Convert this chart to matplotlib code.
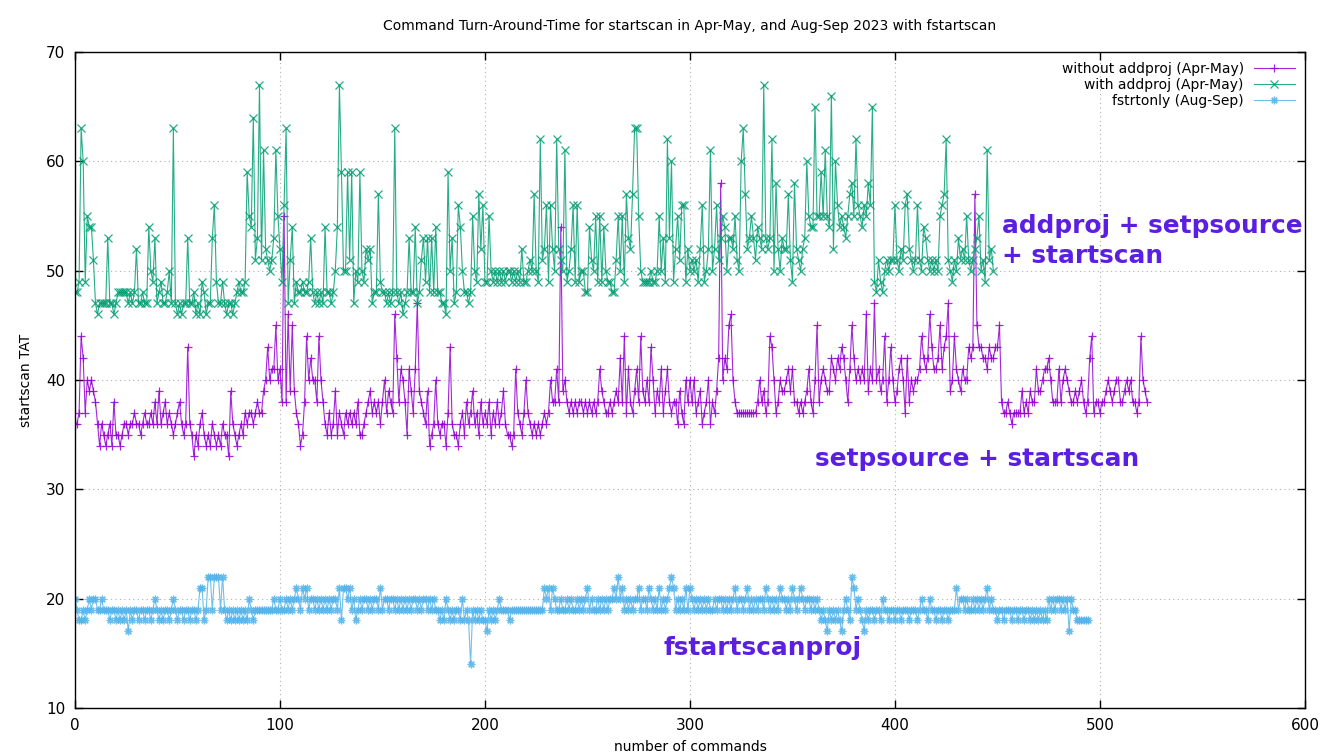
import numpy as np
import matplotlib
matplotlib.use("Agg")
import matplotlib.pyplot as plt

# startscan turn-around time per command (seconds)
without_addproj = [
    36, 36, 37, 44, 42, 37, 40, 39, 40, 39, 38, 36, 34, 36, 35, 34, 35, 36, 34, 38,
    35, 35, 34, 35, 36, 36, 35, 36, 36, 37, 36, 36, 35, 36, 37, 36, 36, 37, 36, 38,
    36, 39, 36, 37, 38, 36, 37, 36, 35, 36, 37, 38, 36, 35, 36, 43, 36, 35, 33, 35,
    34, 36, 37, 35, 34, 35, 34, 36, 35, 34, 35, 34, 36, 35, 35, 33, 39, 36, 35, 34,
    35, 36, 35, 37, 36, 37, 37, 36, 37, 38, 37, 37, 39, 40, 43, 40, 41, 41, 45, 40,
    41, 38, 55, 38, 46, 39, 45, 39, 37, 36, 34, 35, 38, 44, 40, 42, 40, 40, 38, 44,
    40, 38, 36, 35, 37, 35, 36, 39, 35, 37, 36, 35, 37, 36, 37, 36, 37, 36, 38, 35,
    35, 36, 37, 38, 39, 37, 38, 37, 38, 36, 38, 40, 37, 39, 38, 37, 46, 42, 38, 41,
    40, 38, 35, 41, 39, 37, 41, 47, 39, 38, 37, 36, 39, 34, 35, 36, 40, 36, 35, 36,
    36, 34, 37, 43, 36, 35, 35, 34, 36, 37, 35, 38, 36, 37, 39, 36, 37, 35, 38, 36,
    37, 36, 38, 35, 37, 36, 38, 36, 37, 39, 36, 35, 35, 34, 35, 41, 37, 36, 35, 37,
    40, 37, 36, 35, 36, 35, 36, 35, 36, 37, 36, 37, 40, 38, 38, 41, 38, 54, 39, 40,
    38, 37, 38, 37, 38, 37, 38, 38, 37, 38, 37, 38, 37, 38, 37, 38, 41, 39, 38, 37,
    37, 38, 37, 38, 39, 38, 42, 38, 44, 37, 41, 38, 37, 39, 41, 38, 44, 39, 38, 40,
    38, 43, 40, 37, 39, 38, 41, 37, 39, 41, 38, 37, 38, 38, 36, 39, 37, 36, 40, 38,
    40, 38, 40, 37, 38, 39, 36, 37, 38, 40, 36, 38, 37, 39, 42, 58, 40, 42, 41, 45,
    46, 40, 38, 37, 37, 37, 37, 37, 37, 37, 37, 37, 37, 38, 40, 38, 39, 37, 38, 44,
    43, 40, 37, 38, 40, 39, 39, 40, 41, 39, 41, 38, 38, 37, 38, 37, 38, 39, 41, 38,
    37, 40, 45, 38, 40, 41, 40, 39, 39, 42, 41, 40, 42, 41, 43, 42, 40, 38, 41, 45,
    42, 40, 41, 40, 41, 40, 46, 39, 41, 40, 47, 40, 41, 39, 40, 44, 38, 40, 43, 40,
    38, 39, 41, 42, 40, 37, 42, 38, 40, 39, 40, 40, 41, 44, 42, 41, 42, 46, 43, 41,
    41, 42, 45, 41, 43, 44, 47, 39, 40, 44, 41, 40, 39, 41, 40, 40, 43, 42, 43, 57,
    45, 43, 43, 42, 42, 41, 43, 42, 42, 43, 43, 45, 38, 37, 37, 38, 37, 36, 37, 37,
    37, 37, 39, 37, 38, 37, 39, 38, 38, 41, 39, 39, 40, 41, 41, 42, 40, 38, 38, 38,
    41, 38, 40, 41, 40, 39, 38, 38, 39, 38, 39, 40, 38, 37, 38, 42, 44, 37, 38, 38,
    37, 38, 38, 39, 40, 39, 38, 39, 40, 40, 38, 38, 39, 40, 39, 40, 38, 38, 37, 38,
    44, 40, 39, 38,
]

with_addproj = [
    48, 48, 49, 63, 60, 49, 55, 54, 54, 51, 47, 46, 47, 47, 47, 47, 53, 47, 47, 46,
    47, 48, 48, 48, 48, 48, 47, 48, 47, 48, 52, 47, 47, 48, 47, 47, 54, 50, 49, 53,
    47, 48, 49, 47, 47, 48, 50, 47, 63, 47, 46, 47, 46, 47, 47, 53, 47, 47, 48, 46,
    47, 46, 49, 48, 46, 47, 47, 53, 56, 49, 47, 47, 49, 47, 46, 47, 47, 46, 47, 48,
    49, 48, 48, 49, 59, 55, 54, 64, 51, 53, 67, 51, 61, 52, 51, 50, 51, 53, 61, 55,
    52, 49, 56, 63, 47, 51, 54, 47, 49, 48, 48, 49, 48, 48, 49, 53, 48, 47, 48, 47,
    48, 47, 54, 48, 48, 47, 48, 50, 54, 67, 59, 50, 50, 59, 51, 59, 47, 50, 49, 59,
    50, 49, 52, 51, 52, 47, 48, 48, 57, 49, 48, 48, 47, 48, 47, 48, 63, 48, 47, 48,
    46, 47, 48, 53, 48, 48, 54, 47, 48, 51, 53, 49, 53, 48, 53, 48, 54, 48, 48, 47,
    47, 46, 59, 50, 53, 47, 48, 56, 54, 50, 48, 48, 47, 48, 55, 50, 49, 57, 52, 56,
    49, 49, 55, 50, 49, 50, 49, 50, 49, 50, 49, 50, 50, 49, 50, 49, 50, 49, 52, 49,
    49, 50, 51, 50, 57, 50, 49, 62, 51, 52, 56, 49, 56, 52, 50, 62, 52, 51, 50, 61,
    49, 50, 52, 56, 49, 56, 49, 50, 50, 48, 48, 54, 51, 50, 55, 49, 55, 49, 54, 50,
    49, 49, 48, 48, 51, 55, 50, 55, 49, 57, 53, 52, 57, 63, 63, 55, 50, 49, 49, 49,
    49, 50, 49, 49, 50, 55, 50, 53, 49, 62, 53, 60, 49, 52, 55, 51, 56, 56, 49, 52,
    50, 51, 50, 51, 49, 52, 56, 49, 50, 52, 61, 50, 52, 56, 51, 53, 55, 54, 50, 53,
    53, 52, 55, 51, 50, 60, 63, 57, 52, 53, 55, 53, 51, 54, 53, 52, 67, 53, 52, 53,
    62, 50, 58, 52, 50, 53, 52, 52, 57, 51, 49, 58, 52, 51, 50, 52, 53, 60, 55, 54,
    54, 65, 55, 55, 59, 55, 61, 55, 54, 66, 52, 60, 56, 54, 55, 54, 53, 55, 57, 58,
    55, 62, 56, 55, 54, 56, 55, 58, 56, 65, 49, 48, 51, 49, 48, 50, 51, 50, 51, 51,
    56, 51, 50, 52, 51, 56, 57, 52, 51, 50, 51, 56, 51, 50, 54, 53, 51, 50, 51, 50,
    51, 50, 55, 56, 57, 62, 51, 50, 49, 51, 50, 53, 51, 52, 51, 55, 51, 50, 51, 52,
    53, 55, 50, 51, 49, 61, 51, 52, 50,
]

fstrtonly = [
    20, 19, 18, 18, 19, 18, 19, 20, 19, 20, 20, 19, 19, 20, 19, 19, 19, 18, 19, 19,
    18, 19, 18, 19, 18, 19, 17, 19, 18, 19, 19, 18, 19, 19, 18, 19, 19, 18, 19, 20,
    19, 18, 19, 18, 19, 19, 18, 19, 20, 19, 18, 19, 19, 18, 19, 19, 18, 19, 19, 18,
    19, 21, 21, 18, 19, 22, 22, 19, 22, 22, 22, 19, 22, 19, 18, 19, 18, 19, 18, 19,
    18, 19, 18, 19, 18, 20, 19, 18, 19, 19, 19, 19, 19, 19, 19, 19, 19, 20, 19, 19,
    20, 19, 19, 20, 19, 20, 19, 20, 21, 20, 19, 21, 20, 21, 19, 20, 20, 19, 20, 19,
    20, 19, 20, 19, 20, 19, 20, 20, 19, 21, 18, 21, 21, 20, 21, 19, 20, 18, 19, 20,
    19, 20, 20, 19, 20, 19, 20, 20, 19, 21, 19, 20, 20, 19, 20, 20, 19, 20, 19, 20,
    19, 20, 19, 20, 19, 20, 20, 19, 20, 19, 20, 20, 19, 20, 19, 20, 19, 19, 18, 19,
    18, 20, 19, 18, 19, 18, 19, 19, 18, 20, 18, 19, 18, 14, 19, 18, 19, 18, 19, 18,
    18, 17, 19, 18, 19, 18, 19, 20, 19, 19, 19, 19, 18, 19, 19, 19, 19, 19, 19, 19,
    19, 19, 19, 19, 19, 19, 19, 19, 19, 21, 20, 21, 19, 21, 20, 19, 19, 20, 19, 19,
    20, 19, 20, 19, 19, 20, 19, 20, 19, 20, 21, 19, 20, 19, 19, 20, 19, 20, 19, 20,
    19, 20, 20, 21, 20, 22, 20, 21, 19, 20, 19, 20, 19, 20, 20, 21, 19, 20, 20, 19,
    21, 20, 19, 20, 19, 21, 19, 20, 19, 20, 21, 22, 21, 19, 20, 19, 20, 19, 21, 19,
    21, 20, 19, 20, 19, 20, 19, 20, 19, 20, 19, 19, 20, 19, 20, 20, 19, 20, 19, 20,
    19, 20, 21, 19, 20, 20, 19, 20, 21, 19, 20, 19, 20, 19, 20, 20, 19, 21, 20, 19,
    20, 19, 20, 19, 21, 20, 20, 19, 20, 19, 21, 20, 19, 20, 21, 20, 19, 20, 20, 19,
    20, 19, 20, 19, 18, 19, 18, 17, 19, 18, 19, 18, 19, 18, 17, 19, 20, 19, 18, 22,
    21, 19, 20, 19, 18, 17, 19, 18, 19, 19, 18, 19, 19, 18, 20, 19, 19, 18, 19, 19,
    18, 19, 19, 18, 19, 19, 19, 18, 19, 19, 19, 18, 19, 20, 19, 19, 18, 20, 19, 19,
    18, 19, 19, 18, 19, 19, 18, 19, 19, 19, 21, 19, 20, 20, 19, 20, 19, 19, 20, 19,
    20, 19, 20, 19, 20, 21, 19, 20, 19, 19, 18, 19, 19, 18, 19, 19, 19, 18, 19, 19,
    18, 19, 19, 18, 19, 19, 18, 19, 18, 19, 18, 19, 18, 19, 18, 20, 19, 20, 19, 20,
    20, 19, 20, 19, 20, 17, 20, 19, 19, 18, 18, 18, 18, 18, 18,
]

labels = ["without addproj (Apr-May)", "with addproj (Apr-May)", "fstrtonly (Aug-Sep)"]
colors = ["#9400d3", "#009e73", "#56b4e9"]
markers = ["+", "x", (8, 2, 0)]

fig = plt.figure(figsize=(13.34, 7.55), dpi=100)
ax = fig.add_axes([0.0562, 0.0623, 0.9220, 0.8689])

for series, label, color, marker in zip(
        [without_addproj, with_addproj, fstrtonly], labels, colors, markers):
    xs = np.arange(len(series))
    ax.plot(xs, series, color=color, linewidth=0.8, marker=marker,
            markersize=5.5, markeredgewidth=0.9, label=label, alpha=0.85)

ax.set_xlim(0, 600)
ax.set_ylim(10, 70)
ax.set_xticks(range(0, 601, 100))
ax.set_yticks(range(10, 71, 10))
ax.tick_params(direction="in", length=6, width=1, top=True, right=True,
               labelsize=11, pad=7)
ax.grid(True, linestyle=(0, (1, 3)), color="#b0b0b0", linewidth=0.8)
for side in ax.spines.values():
    side.set_linewidth(1.0)

ax.set_title("Command Turn-Around-Time for startscan in Apr-May, and Aug-Sep 2023 with fstartscan",
             fontsize=10, pad=16)
ax.set_xlabel("number of commands", fontsize=10, labelpad=5)
ax.set_ylabel("startscan TAT", fontsize=10, labelpad=9)

leg = ax.legend(loc="upper right", frameon=False, markerfirst=False,
                fontsize=10, handlelength=3.0, handletextpad=0.7,
                labelspacing=0.15, borderaxespad=0.3)

note = dict(color="#5a1fe3", fontsize=17.8, fontweight="bold", family="DejaVu Sans",
            ha="left", va="center")
ax.text(452, 52.7, "addproj + setpsource\n+ startscan", linespacing=1.3, **note)
ax.text(361, 32.8, "setpsource + startscan", **note)
ax.text(287, 15.5, "fstartscanproj", **note)

fig.savefig("out.png", dpi=100)
